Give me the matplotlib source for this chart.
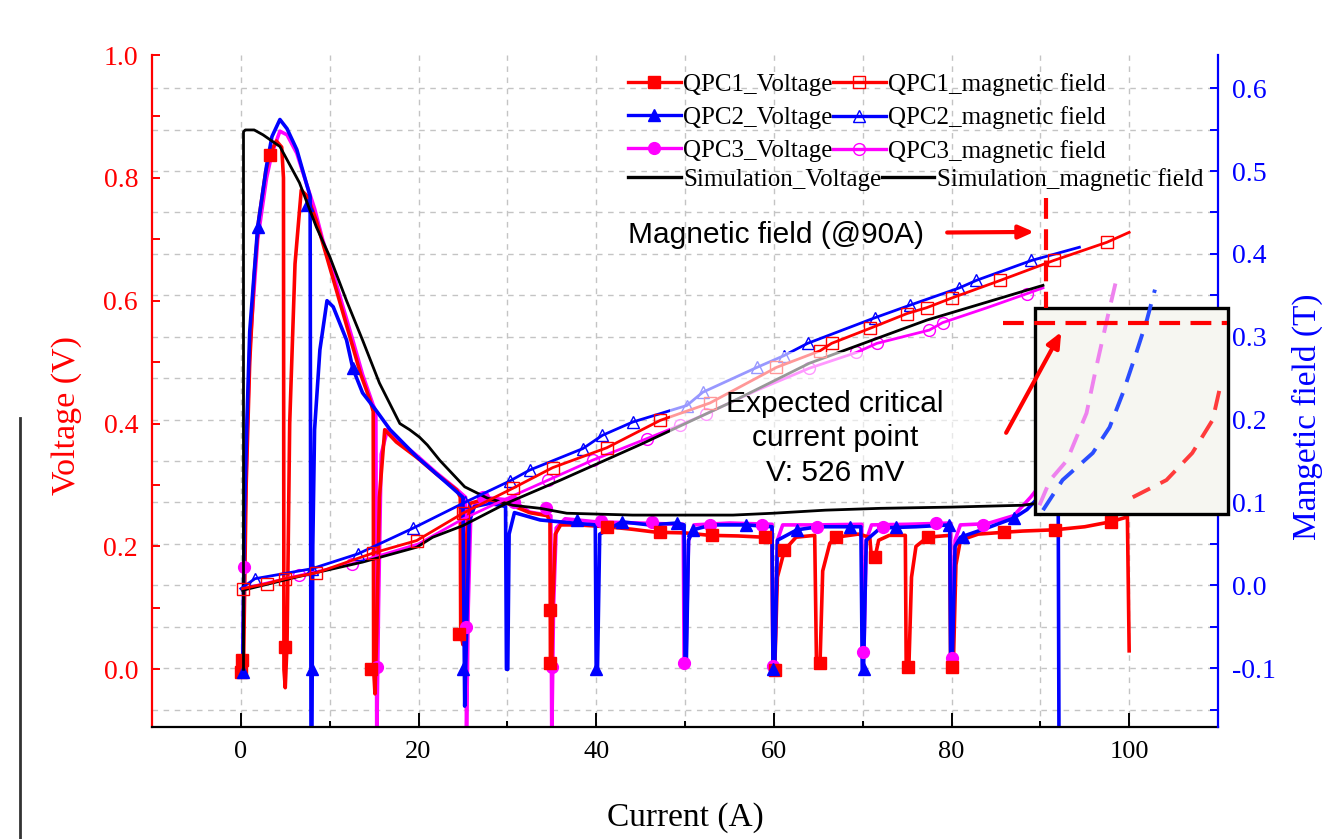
import matplotlib
matplotlib.use("Agg")
import matplotlib.pyplot as plt
import matplotlib.transforms as mtransforms
from matplotlib.lines import Line2D
from matplotlib.patches import Rectangle
import numpy as np

# ---- measured voltage (left axis) ----
qpc1_v_x = [0.0, 0.3, 0.6, 1.0, 1.5, 2.0, 2.8, 3.3, 4.0, 4.6, 4.8, 4.85, 5.0, 5.2, 5.5, 6.1, 6.8, 7.5,
            8.5, 9.5, 10.5, 11.5, 12.5, 13.5, 14.5, 14.9, 14.95, 15.1, 15.3, 15.6, 16.2, 17.5, 19.8, 22.0,
            24.3, 24.7, 24.75, 25.0, 25.3, 25.8, 27.0, 30.0, 32.5, 34.5, 34.8, 34.85, 35.0, 35.1, 35.4, 36.0,
            38.0, 41.2, 44.0, 46.8, 50.0, 52.8, 56.0, 58.8, 59.8, 59.9, 60.1, 60.4, 61.2, 62.5, 64.6, 64.8,
            65.2, 65.5, 66.3, 67.0, 69.5, 70.8, 71.0, 71.4, 71.8, 73.0, 74.8, 74.9, 75.2, 75.5, 76.0, 77.3,
            79.8, 79.9, 80.2, 80.5, 81.0, 83.0, 85.9, 88.0, 91.6, 95.0, 97.9, 99.8, 100.0]
qpc1_v_y = [-0.01, 0.0, 0.30, 0.50, 0.64, 0.73, 0.81, 0.84, 0.86, 0.85, 0.80, 0.0, -0.03, 0.04, 0.40, 0.66, 0.78, 0.77,
            0.73, 0.68, 0.63, 0.58, 0.53, 0.48, 0.44, 0.42, 0.0, -0.04, 0.06, 0.28, 0.39, 0.37, 0.345, 0.318,
            0.292, 0.28, 0.06, 0.04, 0.20, 0.27, 0.275, 0.27, 0.255, 0.25, 0.24, 0.01, 0.0, 0.10, 0.22, 0.235,
            0.235, 0.232, 0.228, 0.223, 0.222, 0.218, 0.217, 0.215, 0.215, 0.0, -0.002, 0.15, 0.194, 0.215, 0.218, 0.01,
            0.01, 0.16, 0.205, 0.215, 0.22, 0.215, 0.18, 0.183, 0.21, 0.218, 0.218, 0.003, 0.003, 0.15, 0.20, 0.215,
            0.218, 0.003, 0.003, 0.17, 0.21, 0.22, 0.223, 0.225, 0.227, 0.232, 0.24, 0.248, 0.03]
qpc1_mk_x = [0.0, 0.1, 3.3, 5.0, 14.6, 24.6, 34.8, 34.8, 41.2, 47.2, 53.0, 59.0, 60.1, 61.2, 65.2, 67.0,
             71.4, 75.1, 77.3, 80.1, 85.9, 91.6, 97.9]
qpc1_mk_y = [-0.005, 0.015, 0.838, 0.036, 0.0, 0.058, 0.096, 0.011, 0.232, 0.223, 0.218, 0.215, -0.002, 0.194,
             0.01, 0.215, 0.183, 0.003, 0.215, 0.003, 0.223, 0.227, 0.240]

qpc2_v_x = [0.2, 0.4, 0.7, 1.0, 1.9, 2.9, 3.5, 4.4, 5.2, 6.3, 7.4, 7.8, 7.9, 8.0, 8.1, 8.3, 8.9, 9.7, 10.4,
            11.9, 12.6, 13.7, 15.3, 16.8, 19.8, 23.2, 25.0, 25.2, 25.4, 25.7, 26.3, 28.0, 29.8, 29.9, 30.05,
            30.2, 30.8, 33.7, 37.4, 39.9, 40.0, 40.15, 40.4, 42.9, 46.0, 49.1, 49.9, 50.0, 50.15, 50.4, 50.9,
            53.0, 56.9, 59.8, 59.9, 60.1, 60.4, 62.6, 65.0, 69.8, 69.95, 70.1, 70.4, 72.0, 76.0, 79.8, 79.9,
            80.1, 80.4, 81.0, 84.0, 87.0, 88.5, 89.8, 91.5, 92.0, 92.1]
qpc2_v_y = [-0.005, 0.25, 0.41, 0.55, 0.72, 0.82, 0.867, 0.895, 0.88, 0.846, 0.79, 0.77, -0.12, -0.12, 0.20, 0.39,
            0.52, 0.60, 0.59, 0.536, 0.49, 0.45, 0.42, 0.39, 0.346, 0.303, 0.28, -0.06, 0.05, 0.24, 0.265, 0.27,
            0.265, 0.0, 0.0, 0.22, 0.255, 0.243, 0.238, 0.235, 0.0, 0.0, 0.22, 0.24, 0.235, 0.238, 0.235, 0.01,
            0.01, 0.21, 0.227, 0.235, 0.235, 0.232, 0.0, 0.0, 0.21, 0.227, 0.232, 0.232, 0.0, 0.0, 0.21, 0.23,
            0.232, 0.235, 0.02, 0.02, 0.20, 0.215, 0.23, 0.246, 0.26, 0.28, 0.33, 0.33, -0.12]
qpc2_mk_x = [0.2, 1.9, 7.4, 8.0, 12.6, 25.0, 37.8, 40.0, 42.9, 49.1, 50.9, 56.9, 59.9, 62.6, 68.6, 70.1,
             73.7, 79.7, 81.3, 87.0]
qpc2_mk_y = [-0.005, 0.72, 0.756, 0.0, 0.49, 0.0, 0.243, 0.0, 0.24, 0.238, 0.227, 0.235, 0.0, 0.227, 0.232, 0.0,
             0.232, 0.235, 0.215, 0.246]

qpc3_v_x = [0.2, 0.4, 0.7, 1.0, 1.9, 2.9, 3.5, 4.4, 5.2, 6.3, 7.4, 8.3, 9.2, 10.4, 11.5, 12.6, 13.7, 14.9,
            15.2, 15.3, 15.5, 15.8, 16.5, 17.5, 19.8, 22.0, 24.3, 25.3, 25.4, 25.6, 25.9, 27.2, 30.6, 32.5,
            34.9, 35.0, 35.2, 35.5, 36.5, 40.0, 45.0, 49.8, 49.9, 50.1, 50.4, 51.0, 55.0, 59.8, 59.9, 60.1,
            60.4, 61.0, 65.0, 69.9, 70.0, 70.15, 70.4, 71.0, 75.0, 79.9, 80.0, 80.15, 80.4, 81.0, 84.0, 87.0,
            88.9, 90.0]
qpc3_v_y = [0.0, 0.20, 0.38, 0.52, 0.70, 0.80, 0.84, 0.876, 0.87, 0.84, 0.79, 0.75, 0.70, 0.645, 0.59, 0.536,
            0.48, 0.43, 0.42, -0.12, 0.10, 0.35, 0.39, 0.375, 0.348, 0.32, 0.293, 0.28, -0.12, 0.10, 0.26, 0.28,
            0.275, 0.256, 0.25, -0.12, 0.10, 0.23, 0.245, 0.24, 0.238, 0.236, 0.01, 0.01, 0.21, 0.235, 0.238,
            0.236, 0.006, 0.006, 0.21, 0.235, 0.235, 0.236, 0.03, 0.03, 0.21, 0.235, 0.236, 0.238, 0.018, 0.018,
            0.21, 0.235, 0.237, 0.25, 0.28, 0.30]
qpc3_mk_x = [0.35, 15.3, 25.4, 27.3, 30.8, 34.4, 35.0, 40.5, 46.3, 49.9, 52.8, 58.7, 59.9, 64.9, 70.0, 72.3,
             78.3, 80.0, 83.6]
qpc3_mk_y = [0.166, 0.003, 0.068, 0.28, 0.272, 0.262, 0.003, 0.242, 0.24, 0.01, 0.235, 0.235, 0.006, 0.232,
             0.028, 0.232, 0.238, 0.018, 0.235]

sim_v_x = [0.3, 0.3, 0.5, 1.5, 2.5, 4.4, 6.6, 8.5, 10.0, 11.9, 13.7, 15.6, 17.9, 19.0, 20.1, 21.0, 22.4, 25.2,
           27.7, 30.6, 33.7, 36.7, 44.1, 50.5, 55.4, 59.9, 65.8, 72.0, 80.0, 88.0, 89.6]
sim_v_y = [0.0, 0.875, 0.878, 0.878, 0.87, 0.851, 0.792, 0.72, 0.672, 0.60, 0.536, 0.466, 0.40, 0.39, 0.378,
           0.365, 0.34, 0.297, 0.279, 0.267, 0.262, 0.254, 0.251, 0.251, 0.251, 0.254, 0.259, 0.262, 0.264,
           0.267, 0.270]

# ---- magnetic field (right axis) ----
qpc1_b_x = [0.2, 2.9, 5.0, 8.5, 14.9, 19.8, 25.0, 30.6, 35.1, 41.2, 47.2, 52.8, 60.3, 65.2, 66.5, 70.8,
            75.0, 77.2, 80.1, 85.5, 91.5, 97.5, 100.0]
qpc1_b_y = [-0.004, 0.002, 0.008, 0.015, 0.039, 0.054, 0.087, 0.117, 0.142, 0.166, 0.199, 0.22, 0.263, 0.283,
            0.292, 0.31, 0.328, 0.335, 0.347, 0.368, 0.392, 0.414, 0.426]

qpc2_b_x = [0.0, 1.6, 8.0, 13.2, 19.4, 25.2, 30.3, 32.5, 38.5, 40.7, 44.1, 50.2, 52.0, 58.1, 61.1, 63.8,
            71.4, 75.3, 80.9, 82.8, 89.0, 94.4]
qpc2_b_y = [-0.004, 0.008, 0.02, 0.038, 0.069, 0.100, 0.126, 0.139, 0.165, 0.181, 0.197, 0.217, 0.233, 0.263,
            0.277, 0.292, 0.323, 0.338, 0.359, 0.368, 0.392, 0.408]

qpc3_b_x = [0.2, 6.6, 12.5, 20.0, 25.0, 30.0, 34.6, 39.6, 45.7, 49.4, 52.4, 58.0, 64.0, 69.3, 71.6, 77.5,
            79.0, 84.0, 88.5, 90.3]
qpc3_b_y = [-0.004, 0.012, 0.026, 0.05, 0.08, 0.105, 0.127, 0.151, 0.177, 0.193, 0.207, 0.235, 0.262, 0.281,
            0.292, 0.308, 0.317, 0.335, 0.352, 0.359]
qpc3_b_marks = [1, 2, 6, 7, 8, 9, 10, 12, 13, 14, 15, 16, 18]

sim_b_x = [0.2, 6.3, 13.7, 19.8, 21.6, 25.0, 29.9, 36.0, 45.0, 55.0, 64.0, 77.2, 90.3]
sim_b_y = [-0.006, 0.010, 0.028, 0.046, 0.058, 0.072, 0.099, 0.127, 0.17, 0.22, 0.268, 0.32, 0.362]

# ---- extrapolated voltage rise (dashed, in the box) ----
ext3_x = [89.9, 91.1, 93.0, 95.2, 96.3, 97.5, 98.6]
ext3_y = [0.267, 0.308, 0.34, 0.417, 0.492, 0.569, 0.637]
ext2_x = [90.3, 92.5, 95.9, 97.8, 99.3, 100.8, 102.0, 102.9]
ext2_y = [0.259, 0.308, 0.352, 0.394, 0.45, 0.515, 0.569, 0.618]
ext1_x = [100.4, 104.2, 107.1, 109.4, 110.4]
ext1_y = [0.28, 0.308, 0.352, 0.406, 0.47]

RED, BLUE, MAG = "#ff0000", "#0000ff", "#ff00ff"
serif = "Liberation Serif"
sans = "Liberation Sans"

fig = plt.figure(figsize=(13.22, 8.39), dpi=100)
ax = fig.add_axes([152 / 1322, 1 - 727 / 839, 1066 / 1322, 672 / 839])
ax2 = ax.twinx()

ax.set_xlim(-10, 110)
ax.set_ylim(-0.094, 1.0)
ax2.set_ylim(-0.171, 0.64)

# grid (x every 10, y following the right scale every 0.05)
grid_kw = dict(color="#c4c4c4", lw=1.0, ls=(0, (4, 4)), zorder=0.5)
for gx in np.arange(0, 111, 10):
    ax.axvline(gx, **grid_kw)
blend = mtransforms.blended_transform_factory(ax.transAxes, ax2.transData)
for gy in np.arange(-0.15, 0.62, 0.05):
    ax.plot([0, 1], [gy, gy], transform=blend, **grid_kw)

# voltages
lw_v = 2.6
ax.plot(qpc3_v_x, qpc3_v_y, color=MAG, lw=lw_v, zorder=2)
ax.plot(qpc1_v_x, qpc1_v_y, color=RED, lw=lw_v, zorder=2.1)
ax.plot(qpc2_v_x, qpc2_v_y, color=BLUE, lw=lw_v, zorder=2.2)
ax.plot(qpc3_mk_x, qpc3_mk_y, ls="none", marker="o", ms=8.5, color=MAG, zorder=2.3)
ax.plot(qpc1_mk_x, qpc1_mk_y, ls="none", marker="s", ms=8.5, color=RED, zorder=2.3)
ax.plot(qpc2_mk_x, qpc2_mk_y, ls="none", marker="^", ms=9, color=BLUE, zorder=2.3)
ax.plot(sim_v_x, sim_v_y, color="black", lw=2.0, zorder=2.5)

# magnetic fields
lw_b = 2.0
ax2.plot(qpc3_b_x, qpc3_b_y, color=MAG, lw=lw_b, marker="o", ms=8.5, mfc="none", mew=1.0,
         markevery=qpc3_b_marks, zorder=2)
ax2.plot(sim_b_x, sim_b_y, color="black", lw=lw_b, zorder=2.1)
ax2.plot(qpc2_b_x, qpc2_b_y, color=BLUE, lw=lw_b, marker="^", ms=9, mfc="none", mew=1.0,
         markevery=slice(1, len(qpc2_b_x) - 1), zorder=2.2)
ax2.plot(qpc1_b_x, qpc1_b_y, color=RED, lw=lw_b, marker="s", ms=8.5, mfc="none", mew=1.0,
         markevery=slice(0, len(qpc1_b_x) - 1), zorder=2.3)

# faded area behind the text
ax2.add_patch(Rectangle((48.3, 0.30), 37.0, 0.217, transform=ax.transData,
                        facecolor="white", edgecolor="none", alpha=0.6, zorder=3))

# critical current box
ax2.add_patch(Rectangle((89.4, 0.253), 21.7, 0.335, transform=ax.transData,
                        facecolor="#f6f6f1", edgecolor="black", lw=2.4, zorder=4, clip_on=False))
dash_kw = dict(lw=2.8, ls=(0, (5, 3)), transform=ax.transData, zorder=5, clip_on=False)
ax2.plot(ext3_x, ext3_y, color="#ee82ee", **dash_kw)
ax2.plot(ext2_x, ext2_y, color="#2a4dff", **dash_kw)
ax2.plot(ext1_x, ext1_y, color="#ff3b3b", **dash_kw)
ax2.plot([85.8, 111.0], [0.564, 0.564], color=RED, lw=3.0, ls=(0, (5, 2.5)),
         transform=ax.transData, zorder=5, clip_on=False)
ax2.plot([90.6, 90.6], [0.768, 0.588], color=RED, lw=3.0, ls=(0, (5, 2.5)),
         transform=ax.transData, zorder=5, clip_on=False)

# annotations
ax2.text(60.3, 0.707, "Magnetic field (@90A)", transform=ax.transData, ha="center", va="center",
         family=sans, fontsize=21.5, zorder=6)
ax2.annotate("", xy=(89.6, 0.712), xytext=(79.2, 0.711), xycoords=ax.transData, textcoords=ax.transData,
             arrowprops=dict(arrowstyle="-|>,head_length=0.9,head_width=0.4", color=RED, lw=3), zorder=6)
ax2.text(66.9, 0.376, "Expected critical\ncurrent point\nV: 526 mV", transform=ax.transData,
         ha="center", va="center", multialignment="center", linespacing=1.3,
         family=sans, fontsize=21.5, zorder=6)
ax2.annotate("", xy=(92.5, 0.553), xytext=(86.0, 0.381), xycoords=ax.transData, textcoords=ax.transData,
             arrowprops=dict(arrowstyle="-|>,head_length=0.9,head_width=0.4", color=RED, lw=3), zorder=6)

# axes styling
for s in ["top", "right"]:
    ax.spines[s].set_visible(False)
for s in ["top", "left", "bottom"]:
    ax2.spines[s].set_visible(False)
ax.spines["left"].set_color(RED)
ax.spines["left"].set_linewidth(1.6)
ax.spines["bottom"].set_linewidth(1.6)
ax2.spines["right"].set_color(BLUE)
ax2.spines["right"].set_linewidth(1.6)

ax.set_xticks([0, 20, 40, 60, 80, 100])
ax.set_xticks(np.arange(-10, 111, 10), minor=True)
ax.set_yticks([0.0, 0.2, 0.4, 0.6, 0.8, 1.0])
ax.set_yticks(np.arange(0.1, 1.0, 0.2), minor=True)
ax2.set_yticks([-0.1, 0.0, 0.1, 0.2, 0.3, 0.4, 0.5, 0.6])
ax2.set_yticks(np.arange(-0.15, 0.62, 0.1), minor=True)
ax.set_yticklabels(["0.0", "0.2", "0.4", "0.6", "0.8", "1.0"])
ax2.set_yticklabels(["-0.1", "0.0", "0.1", "0.2", "0.3", "0.4", "0.5", "0.6"])

ax.tick_params(axis="x", which="major", direction="in", length=10, width=1.4, pad=10, labelsize=19)
ax.tick_params(axis="x", which="minor", direction="in", length=4, width=1.4)
ax.tick_params(axis="y", which="both", direction="in", length=6, width=1.4, color=RED,
               labelcolor=RED, labelsize=20, pad=10)
ax2.tick_params(axis="y", which="both", direction="in", length=6, width=1.4, color=BLUE,
                labelcolor=BLUE, labelsize=20, pad=10)
for lab in ax.get_xticklabels() + ax.get_yticklabels() + ax2.get_yticklabels():
    lab.set_family(serif)

ax.set_xlabel("Current (A)", family=serif, fontsize=24)
ax.xaxis.set_label_coords(0.5, -0.112)
ax.set_ylabel("Voltage (V)", family=serif, fontsize=24.5, color=RED)
ax.yaxis.set_label_coords(-0.066, 0.463)
ax2.set_ylabel("Mangetic field (T)", family=serif, fontsize=24, color=BLUE)
ax2.yaxis.set_label_coords(1.069, 0.461)

# legend: three QPC rows, then the simulation row with its own column break
def legend_line(color, marker=None, ms=8.5, filled=True):
    if marker is None:
        return Line2D([], [], color=color, lw=2.4)
    return Line2D([], [], color=color, lw=2.4, marker=marker, ms=ms,
                  mfc=color if filled else "none", mew=1.0)

leg_kw = dict(ncol=2, loc="upper left", bbox_transform=fig.transFigure, frameon=False, borderpad=0,
              borderaxespad=0, handlelength=2.1, handletextpad=0.12, columnspacing=0.0,
              labelspacing=0.42, prop={"family": serif, "size": 18})
qpc_handles = [legend_line(RED, "s"), legend_line(BLUE, "^", 9), legend_line(MAG, "o"),
               legend_line(RED, "s", filled=False), legend_line(BLUE, "^", 9, filled=False),
               legend_line(MAG, "o", filled=False)]
qpc_labels = ["QPC1_Voltage", "QPC2_Voltage", "QPC3_Voltage",
              "QPC1_magnetic field", "QPC2_magnetic field", "QPC3_magnetic field"]
leg1 = ax2.legend(qpc_handles, qpc_labels, bbox_to_anchor=(628 / 1322, 1 - 73 / 839), **leg_kw)
leg1.set_zorder(7)
ax2.add_artist(leg1)
leg2 = ax2.legend([legend_line("black"), legend_line("black")],
                  ["Simulation_Voltage", "Simulation_magnetic field"],
                  bbox_to_anchor=(628 / 1322, 1 - 168 / 839), **leg_kw)
leg2.set_zorder(7)

# stray page rule at the far left
fig.add_artist(Line2D([20 / 1322, 20 / 1322], [1 - 418 / 839, 0], color="#333333", lw=2))

plt.savefig("out.png", dpi=100)
